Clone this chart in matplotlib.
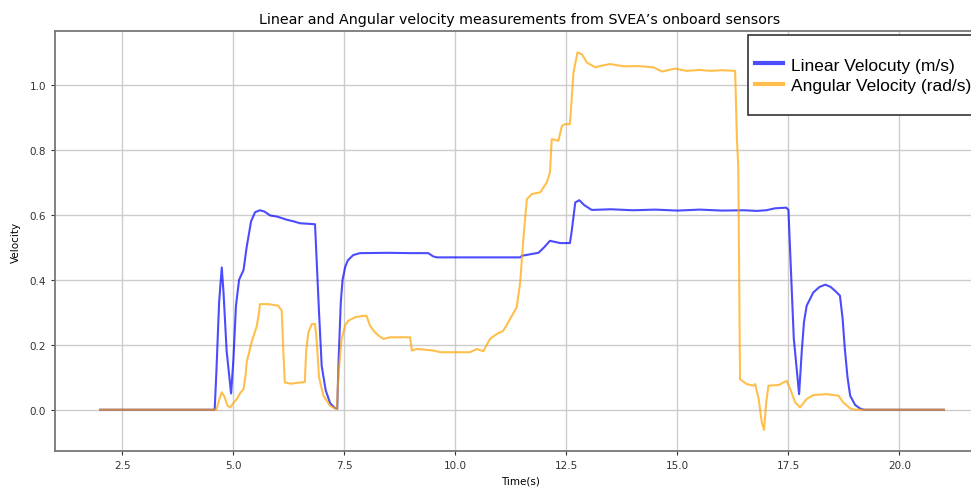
import matplotlib
matplotlib.use("Agg")
from matplotlib import pyplot as plt
from matplotlib.patches import Rectangle

# linear velocity (m/s)
t_lin = [2.0, 4.58, 4.62, 4.68, 4.74, 4.78, 4.85, 4.95, 5.0, 5.06, 5.13, 5.23, 5.30, 5.40,
         5.49, 5.60, 5.70, 5.83, 6.0, 6.2, 6.35, 6.5, 6.84, 6.88, 6.93, 6.99, 7.08, 7.18,
         7.29, 7.34, 7.37, 7.42, 7.46, 7.52, 7.58, 7.7, 7.85, 8.5, 9.0, 9.39, 9.5, 9.58,
         11.46, 11.5, 11.87, 12.0, 12.13, 12.36, 12.58, 12.62, 12.70, 12.79, 12.9, 13.07,
         13.5, 14.0, 14.5, 15.0, 15.5, 16.0, 16.5, 16.79, 17.0, 17.2, 17.45, 17.5, 17.55,
         17.62, 17.74, 17.8, 17.85, 17.91, 18.06, 18.2, 18.33, 18.45, 18.55, 18.66, 18.72,
         18.77, 18.83, 18.89, 19.0, 19.11, 19.2, 21.0]
v_lin = [0.0, 0.0, 0.12, 0.33, 0.438, 0.36, 0.18, 0.05, 0.15, 0.32, 0.40, 0.43, 0.50, 0.58,
         0.608, 0.614, 0.61, 0.598, 0.594, 0.585, 0.58, 0.574, 0.571, 0.45, 0.30, 0.135, 0.06, 0.02,
         0.005, 0.003, 0.15, 0.33, 0.40, 0.44, 0.46, 0.476, 0.482, 0.483, 0.482, 0.482, 0.472, 0.469,
         0.469, 0.474, 0.483, 0.50, 0.52, 0.513, 0.513, 0.55, 0.638, 0.645, 0.63, 0.615,
         0.617, 0.614, 0.616, 0.613, 0.616, 0.613, 0.614, 0.612, 0.614, 0.62, 0.622, 0.615, 0.45,
         0.22, 0.048, 0.18, 0.27, 0.32, 0.361, 0.378, 0.385, 0.378, 0.366, 0.351, 0.28,
         0.187, 0.10, 0.043, 0.015, 0.004, 0.0, 0.0]

# angular velocity (rad/s)
t_ang = [2.0, 4.62, 4.68, 4.74, 4.8, 4.87, 4.93, 5.0, 5.08, 5.15, 5.23, 5.28, 5.30, 5.41, 5.53,
         5.58, 5.60, 5.8, 6.01, 6.09, 6.12, 6.16, 6.3, 6.45, 6.61, 6.64, 6.69, 6.77, 6.84, 6.88,
         6.93, 7.03, 7.18, 7.33, 7.37, 7.44, 7.52, 7.59, 7.75, 7.93, 8.0, 8.08, 8.19, 8.3, 8.38,
         8.53, 8.98, 9.02, 9.13, 9.3, 9.51, 9.66, 10.33, 10.48, 10.63, 10.78, 10.93, 11.08, 11.23,
         11.38, 11.46, 11.53, 11.61, 11.72, 11.91, 12.06, 12.13, 12.17, 12.32, 12.40, 12.47, 12.58,
         12.66, 12.75, 12.85, 12.96, 13.15, 13.26, 13.48, 13.8, 14.1, 14.46, 14.65, 14.95, 15.21,
         15.5, 15.74, 16.0, 16.3, 16.34, 16.37, 16.41, 16.56, 16.71, 16.75, 16.83, 16.9, 16.95,
         17.0, 17.05, 17.28, 17.46, 17.54, 17.65, 17.76, 17.91, 18.06, 18.36, 18.63, 18.73, 18.89,
         19.0, 21.0]
v_ang = [0.0, 0.0, 0.03, 0.054, 0.04, 0.012, 0.007, 0.02, 0.033, 0.05, 0.064, 0.11, 0.146, 0.207, 0.258,
         0.30, 0.325, 0.325, 0.32, 0.305, 0.2, 0.084, 0.08, 0.083, 0.085, 0.18, 0.238, 0.264, 0.264, 0.207,
         0.10, 0.043, 0.012, 0.002, 0.115, 0.218, 0.26, 0.274, 0.285, 0.289, 0.289, 0.258, 0.238, 0.225, 0.218,
         0.223, 0.223, 0.182, 0.187, 0.185, 0.182, 0.177, 0.177, 0.187, 0.18, 0.218, 0.233, 0.243, 0.279,
         0.315, 0.392, 0.525, 0.648, 0.664, 0.669, 0.70, 0.73, 0.833, 0.828, 0.874, 0.879, 0.879,
         1.038, 1.10, 1.094, 1.069, 1.054, 1.058, 1.064, 1.057, 1.058, 1.054, 1.041, 1.05, 1.043,
         1.046, 1.043, 1.045, 1.043, 0.833, 0.75, 0.094, 0.079, 0.074, 0.079, 0.033, -0.039, -0.062,
         0.023, 0.074, 0.076, 0.089, 0.064, 0.023, 0.007, 0.033, 0.045, 0.048, 0.043, 0.023, 0.004,
         0.0, 0.0]

W, H = 971, 489
fig = plt.figure(figsize=(W / 100, H / 100), dpi=100)
ax = fig.add_axes([0.0566, 0.0757, 0.958, 0.859])

ax.plot(t_lin, v_lin, color='blue', alpha=0.7, lw=1.5, label='Linear Velocuty (m/s)')
ax.plot(t_ang, v_ang, color='orange', alpha=0.7, lw=1.5, label='Angular Velocity (rad/s)')

ax.set_xlim(0.984, 21.93)
ax.set_ylim(-0.127, 1.166)
ax.set_xticks([2.5, 5.0, 7.5, 10.0, 12.5, 15.0, 17.5, 20.0])
ax.set_yticks([0.0, 0.2, 0.4, 0.6, 0.8, 1.0])
ax.grid(True, color='#cccccc', lw=1)
ax.set_axisbelow(True)
ax.tick_params(labelsize=7.5, colors='#333333', length=3)
for s in ax.spines.values():
    s.set_color('#777777')
    s.set_linewidth(1.3)

ax.set_title("Linear and Angular velocity measurements from SVEA\u2019s onboard sensors", fontsize=10.3, pad=6)
ax.set_xlabel("Time(s)", fontsize=7.5, labelpad=4)
ax.set_ylabel("Velocity", fontsize=7.5, labelpad=6)

# legend box: tall padding, tight on the left, runs off the right edge
box = Rectangle((748 / W, 1 - 116 / H), 240 / W, 80 / H, transform=fig.transFigure,
                facecolor='white', edgecolor='#333333', lw=1.2, zorder=5)
fig.patches.append(box)
leg = fig.legend(*ax.get_legend_handles_labels(), loc='center left',
                 bbox_to_anchor=(755 / W, 1 - 76 / H), bbox_transform=fig.transFigure,
                 prop={'family': 'Liberation Sans', 'size': 12.5}, frameon=False,
                 borderpad=0, borderaxespad=0, handlelength=1.6, handletextpad=0.45,
                 labelspacing=0.28)
leg.set_zorder(6)
for h in leg.get_lines():
    h.set_linewidth(3)

fig.savefig("out.png", dpi=100)
